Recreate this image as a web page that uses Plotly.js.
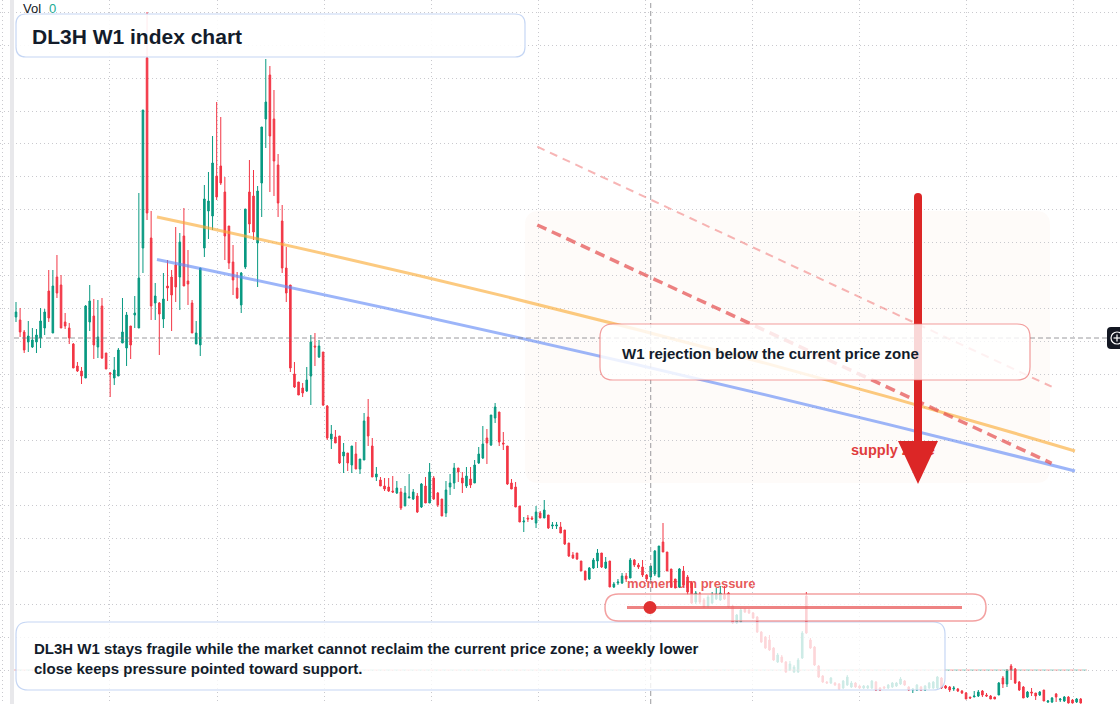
<!DOCTYPE html>
<html><head><meta charset="utf-8">
<script src="https://cdn.plot.ly/plotly-3.0.1.min.js"></script>
<style>html,body{margin:0;padding:0;background:#fff;overflow:hidden}#chart{width:1120px;height:704px}</style>
</head><body><div id="chart"></div>
<script>
// Weekly OHLC values (index points)
const open = [
38.7,38.4,37.2,36.2,35.7,36.2,36.6,37.6,41.3,37.1,
42.7,41.9,38.2,37.6,36.0,33.8,33.3,32.6,38.2,38.8,
35.7,39.8,35.1,33.1,32.6,32.8,36.1,35.6,37.8,38.9,
37.6,45.6,64.6,46.6,40.1,40.1,38.5,41.8,42.7,43.9,
42.7,46.8,42.3,40.1,36.0,35.9,45.6,49.3,48.8,52.8,
53.8,51.2,47.8,44.2,41.6,39.9,43.7,51.2,50.8,46.1,
52.1,58.5,62.9,58.5,53.9,48.3,43.6,41.9,33.0,32.2,
31.6,31.3,32.8,35.8,34.7,35.2,29.8,26.5,26.7,26.8,
24.8,25.1,23.9,25.0,23.5,24.4,28.7,25.8,22.7,22.4,
21.8,21.7,21.3,21.1,21.2,19.8,20.6,20.5,20.8,19.7,
21.8,20.1,22.6,21.1,20.5,19.1,21.7,22.1,23.6,22.6,
21.8,22.5,22.1,24.1,24.6,26.6,25.9,28.6,29.2,26.1,
25.8,22.1,21.7,19.8,18.2,18.6,18.6,18.1,19.1,18.6,
18.9,17.8,17.8,17.7,17.4,16.1,14.9,15.1,14.3,13.3,
12.5,13.6,14.3,15.1,13.6,14.3,11.7,12.1,12.1,12.8,
12.6,14.4,13.9,13.7,12.9,12.7,13.0,12.7,16.2,15.2,
13.5,12.5,11.7,13.3,12.7,12.1,10.2,11.0,10.4,9.8,
10.1,10.5,10.4,10.9,11.1,9.8,8.1,8.2,9.5,9.4,
9.1,8.7,7.2,6.7,6.4,5.6,4.2,4.7,4.2,3.4,
3.2,3.2,4.6,10.8,6.4,5.7,3.8,2.8,2.2,2.1,
2.1,2.0,1.6,1.9,1.7,2.1,1.8,1.6,1.6,1.6,
2.2,1.6,1.7,1.6,1.7,1.8,2.0,2.3,1.7,1.4,
1.4,1.7,1.4,1.6,1.6,1.6,2.6,1.8,1.7,1.5,
1.5,1.3,1.1,0.7,0.7,0.8,1.3,0.9,0.8,0.7,
0.9,2.6,2.0,3.8,3.5,2.2,1.7,0.7,1.2,1.1,
0.9,1.4,0.2,0.2,1.0,0.4,0.3,0.7,0.4,0.2,
0.5];
const high = [
40.2,39.6,37.4,38.3,37.6,37.5,39.6,39.5,43.4,43.4,
44.9,42.9,39.1,38.1,36.1,34.2,33.7,39.9,41.9,40.5,
40.4,40.6,35.1,33.2,34.7,35.6,40.6,39.2,37.8,40.8,
51.1,59.4,69.2,49.3,42.1,40.2,43.1,44.4,43.4,47.7,
47.1,49.6,45.4,40.4,38.3,43.6,51.9,53.2,56.8,60.2,
58.7,52.7,47.8,45.9,43.2,43.2,49.5,54.4,53.4,51.8,
57.7,64.5,63.8,61.4,55.0,49.9,45.7,41.9,34.2,32.2,
32.1,33.7,36.9,37.1,36.4,35.2,29.9,27.9,27.4,26.8,
26.1,25.1,25.8,26.2,24.5,29.1,30.5,26.6,23.7,22.7,
22.6,22.6,22.8,22.3,21.6,21.8,23.0,21.5,21.1,22.1,
22.7,24.1,22.8,21.2,20.5,22.3,23.0,24.1,23.6,23.2,
23.7,23.7,24.4,25.7,27.8,27.5,28.9,30.1,29.2,27.2,
25.8,22.5,22.2,19.8,18.7,18.9,18.8,19.8,19.3,20.4,
18.9,18.2,18.2,18.2,17.4,16.1,15.2,15.1,14.3,13.3,
13.7,14.6,15.5,15.1,14.7,14.3,12.2,12.5,13.1,13.1,
14.6,14.5,14.1,14.4,13.0,13.8,15.4,15.8,18.1,15.2,
13.5,12.5,13.6,13.8,12.9,12.3,11.3,11.2,10.6,10.9,
11.2,11.6,11.8,11.8,11.2,9.9,9.0,9.6,9.6,9.5,
9.2,8.8,7.3,6.8,6.9,5.7,5.1,4.9,4.3,4.3,
3.9,4.6,7.3,11.2,6.6,5.8,3.9,2.9,2.3,2.7,
2.2,2.1,2.4,2.9,2.3,2.2,1.9,1.9,1.9,2.4,
2.3,1.7,1.8,2.0,2.2,2.2,2.7,2.4,1.8,1.6,
2.0,1.8,1.9,2.2,2.3,2.8,2.7,1.9,1.8,1.8,
1.6,1.4,1.2,0.7,1.3,1.4,1.4,1.1,0.9,0.7,
2.2,2.8,3.5,4.0,3.6,2.3,1.8,1.3,1.6,1.1,
1.3,1.4,0.4,0.7,1.1,0.6,0.8,0.8,0.5,0.6,
0.6];
const low = [
38.2,36.7,35.1,35.2,35.6,35.1,35.6,36.9,38.2,37.1,
40.6,37.6,37.5,36.0,33.6,33.2,32.0,32.6,37.3,34.5,
34.6,34.5,33.5,30.7,31.9,32.8,36.1,33.8,34.5,37.6,
37.6,43.1,48.4,38.4,38.4,34.9,37.6,40.3,37.3,40.2,
39.4,41.8,39.9,37.1,36.0,34.8,44.7,46.5,47.4,50.4,
51.9,44.4,43.5,40.9,40.5,39.1,43.5,47.1,46.4,41.7,
48.7,55.6,51.2,50.8,48.7,43.1,40.2,33.2,31.6,30.9,
30.7,31.2,29.9,33.8,34.6,29.8,26.4,25.5,26.1,24.0,
23.1,23.3,23.1,23.5,23.0,24.4,25.8,22.7,22.3,21.8,
21.3,21.2,21.1,21.0,19.4,19.8,20.6,20.4,19.1,19.6,
20.1,20.1,20.4,19.7,18.8,18.7,20.9,21.5,22.2,21.1,
21.6,21.6,22.1,24.0,24.5,24.0,25.8,28.1,25.8,25.4,
21.9,21.5,19.7,18.2,17.2,18.2,18.4,17.6,18.6,18.6,
17.5,17.5,17.5,17.1,15.9,14.7,14.5,14.4,13.3,12.4,
12.4,13.5,13.6,13.6,13.5,11.7,11.6,11.9,12.0,12.2,
12.6,13.7,13.5,12.7,12.2,12.4,12.8,12.7,15.2,13.3,
11.6,11.6,11.6,11.7,10.9,10.0,10.0,10.0,9.6,9.6,
10.0,10.4,10.3,10.4,9.6,8.0,8.0,8.1,9.1,9.0,
8.5,7.1,6.1,5.5,5.3,4.3,4.1,4.1,3.1,3.3,
3.1,3.1,4.5,7.0,5.5,3.8,2.6,2.1,2.0,2.0,
1.8,1.4,1.5,1.8,1.6,1.6,1.5,1.5,1.5,1.5,
1.3,1.3,1.5,1.5,1.6,1.7,1.9,1.8,1.3,1.1,
1.3,1.3,1.3,1.5,1.5,1.5,1.5,1.5,1.2,1.3,
1.2,1.0,0.5,0.5,0.7,0.7,0.7,0.7,0.5,0.5,
0.9,1.6,1.7,2.4,2.0,1.3,0.6,0.6,0.8,0.4,
0.8,0.3,0.1,0.1,0.2,0.2,0.2,0.05,0.05,0.1,
0.05];
const close = [
39.2,37.2,35.4,36.8,36.4,36.9,38.3,39.2,38.6,41.8,
41.1,37.6,37.8,36.6,33.6,33.3,32.8,39.8,40.3,35.9,
36.7,34.6,33.5,33.0,33.4,35.4,37.2,38.9,35.9,39.1,
42.6,59.4,49.1,39.8,40.8,39.0,40.5,41.6,40.9,41.7,
46.2,41.8,42.0,37.1,37.1,43.6,50.5,50.3,54.1,50.7,
52.1,46.8,44.1,42.4,40.6,43.1,49.5,48.0,47.2,51.3,
57.7,60.2,56.8,54.3,50.1,43.6,41.1,33.6,31.7,30.9,
31.1,32.4,36.2,35.7,35.8,29.9,26.6,27.0,26.1,24.1,
25.2,24.1,25.8,23.5,24.5,28.3,26.8,22.7,23.0,21.8,
21.5,21.3,21.2,21.6,19.6,21.1,20.7,21.2,19.2,22.0,
20.1,23.2,20.5,19.9,18.8,21.4,22.1,23.6,23.2,22.1,
22.8,21.9,23.9,25.0,26.0,26.1,28.9,29.7,26.2,26.0,
22.0,21.5,19.7,18.2,18.3,18.5,18.5,19.2,18.6,19.4,
17.6,17.9,17.9,17.1,16.0,14.8,14.6,14.5,13.3,12.4,
13.6,14.4,15.1,13.7,14.2,11.7,12.0,12.2,12.8,12.5,
14.4,13.9,13.7,12.9,12.5,13.8,15.3,15.8,15.2,13.3,
11.7,11.6,13.5,11.9,11.2,10.1,11.1,10.2,9.7,10.7,
10.9,11.0,11.1,10.5,9.7,8.1,8.9,9.4,9.2,9.1,
8.6,7.2,6.2,5.6,5.4,4.4,4.9,4.2,3.2,4.0,
3.7,4.4,7.1,7.1,5.6,3.9,2.7,2.2,2.1,2.6,
1.9,1.5,2.3,2.7,2.1,1.7,1.6,1.8,1.8,2.3,
1.4,1.4,1.6,1.9,2.1,2.1,2.5,1.9,1.4,1.5,
1.9,1.4,1.8,2.1,2.2,2.7,1.6,1.6,1.4,1.6,
1.3,1.1,0.5,0.6,0.8,1.2,0.9,0.8,0.5,0.5,
2.1,2.0,3.3,3.4,2.1,1.4,0.6,1.2,1.1,0.8,
1.2,0.3,0.3,0.6,0.7,0.5,0.7,0.1,0.1,0.5,
0.1];
const week = open.map((_, i) => i);

// Reference levels / drawn trend lines (index-point units)
const crossWeek = 155, crossPrice = 36.6, lastLine = 3.4;
const titleText = 'DL3H W1 index chart';
const noteLines = ['DL3H W1 stays fragile while the market cannot reclaim the current price zone; a weekly lower',
                   'close keeps pressure pointed toward support.'];
const calloutText = 'W1 rejection below the current price zone';

// ---- layout helpers (pixel -> paper) ----
const W = 1120, H = 704;
const px = x => x / W, py = y => 1 - y / H;
function rr(x0, y0, x1, y1, r) {
  const P = (x, y) => px(x).toFixed(5) + ',' + py(y).toFixed(5);
  return 'M' + P(x0 + r, y0) + ' L' + P(x1 - r, y0) + ' Q' + P(x1, y0) + ' ' + P(x1, y0 + r) +
    ' L' + P(x1, y1 - r) + ' Q' + P(x1, y1) + ' ' + P(x1 - r, y1) +
    ' L' + P(x0 + r, y1) + ' Q' + P(x0, y1) + ' ' + P(x0, y1 - r) +
    ' L' + P(x0, y0 + r) + ' Q' + P(x0, y0) + ' ' + P(x0 + r, y0) + ' Z';
}
const paperShape = (o) => Object.assign({xref: 'paper', yref: 'paper', layer: 'above'}, o);
const FONT = 'Liberation Sans, Arial, Helvetica, sans-serif';
const INK = '#131c2b';

const shapes = [
  // faint supply zone backdrop
  paperShape({type: 'path', path: rr(525, 211, 1050, 483, 14), fillcolor: 'rgba(245,215,190,0.09)', line: {width: 0}, layer: 'below'}),
  // left strip
  paperShape({type: 'rect', x0: px(10), x1: px(14), y0: 0, y1: 1, fillcolor: '#e8e8eb', line: {width: 0}}),
  // momentum pressure label (under candles)
  paperShape({type: 'rect', x0: px(624), x1: px(760), y0: py(590), y1: py(574), fillcolor: 'rgba(0,0,0,0)', line: {width: 0}, layer: 'below',
    label: {text: '<b>momentum pressure</b>', textposition: 'middle left', padding: 0, font: {family: FONT, size: 13, color: 'rgba(226,52,52,0.82)'}}}),
  // trend curves
  {type: 'path', xref: 'x', yref: 'y', layer: 'above', path: 'M34.43,48.7 Q146.5,38.99 258.6,25.3', line: {color: 'rgba(250,170,50,0.62)', width: 3}},
  {type: 'path', xref: 'x', yref: 'y', layer: 'above', path: 'M34.43,44.45 Q146.3,34.98 258.6,23.3', line: {color: 'rgba(95,135,245,0.62)', width: 3}},
  {type: 'line', xref: 'x', yref: 'y', layer: 'above', x0: 127.3, y0: 55.73, x1: 252.9, y1: 31.73, line: {color: 'rgba(240,120,120,0.55)', width: 2, dash: '8px,6px'}},
  {type: 'line', xref: 'x', yref: 'y', layer: 'above', x0: 127.3, y0: 47.9, x1: 252.9, y1: 24.07, line: {color: 'rgba(228,80,80,0.72)', width: 3.5, dash: '10px,6px'}},
  // last price line
  {type: 'line', xref: 'paper', yref: 'y', layer: 'above', x0: px(14), x1: px(1087), y0: lastLine, y1: lastLine, line: {color: 'rgba(240,110,110,0.6)', width: 1, dash: '4px,4px'}},
  {type: 'line', xref: 'paper', yref: 'y', layer: 'above', x0: px(14), x1: px(1087), y0: lastLine, y1: lastLine, line: {color: 'rgba(60,170,150,0.55)', width: 1, dash: '0px,4px,4px,0px'}},
  // crosshair
  {type: 'line', xref: 'x', yref: 'paper', layer: 'above', x0: crossWeek, x1: crossWeek, y0: 0, y1: 1, line: {color: 'rgba(120,120,125,0.75)', width: 1, dash: '5px,3px'}},
  {type: 'line', xref: 'paper', yref: 'y', layer: 'above', x0: px(14), x1: px(1107), y0: crossPrice, y1: crossPrice, line: {color: 'rgba(120,120,125,0.75)', width: 1, dash: '5px,3px'}},
  // supply zone label (arrow drawn over it)
  paperShape({type: 'rect', x0: px(848), x1: px(945), y0: py(457), y1: py(439), fillcolor: 'rgba(0,0,0,0)', line: {width: 0},
    label: {text: '<b>supply zone</b>', textposition: 'middle left', padding: 0, font: {family: FONT, size: 14.5, color: '#e03c3c'}}}),
  // big arrow
  paperShape({type: 'line', x0: px(918), x1: px(918), y0: py(197), y1: py(446), line: {color: '#dc2626', width: 8}}),
  paperShape({type: 'circle', x0: px(914), x1: px(922), y0: py(193), y1: py(201), fillcolor: '#dc2626', line: {width: 0}}),
  paperShape({type: 'path', path: 'M' + px(898) + ',' + py(441) + ' L' + px(938) + ',' + py(441) + ' L' + px(918) + ',' + py(484) + ' Z', fillcolor: '#dc2626', line: {width: 0}}),
  // callout box
  paperShape({type: 'path', path: rr(600, 324, 1030, 380, 13), fillcolor: 'rgba(255,255,255,0.82)', line: {color: 'rgba(235,105,105,0.65)', width: 1.2}}),
  // title box
  paperShape({type: 'path', path: rr(16, 14, 525, 57, 10), fillcolor: 'rgba(255,255,255,0.9)', line: {color: 'rgba(178,200,240,0.75)', width: 1.2}}),
  // bottom note box
  paperShape({type: 'path', path: rr(16, 622, 945, 690, 12), fillcolor: 'rgba(255,255,255,0.8)', line: {color: 'rgba(178,200,240,0.75)', width: 1.2}}),
  // momentum pill
  paperShape({type: 'path', path: rr(605, 594, 986, 621, 13.5), fillcolor: 'rgba(255,255,255,0.78)', line: {color: 'rgba(236,110,110,0.65)', width: 1.5}}),
  paperShape({type: 'line', x0: px(627), x1: px(962), y0: py(607.5), y1: py(607.5), line: {color: 'rgba(232,90,90,0.75)', width: 3}}),
  paperShape({type: 'circle', x0: px(643.5), x1: px(656.5), y0: py(601), y1: py(614), fillcolor: '#e03131', line: {width: 0}}),
  // crosshair price tag at right edge
  paperShape({type: 'path', path: rr(1107, 327, 1128, 349, 4), fillcolor: '#131722', line: {width: 0}}),
  paperShape({type: 'circle', x0: px(1111), x1: px(1123), y0: py(332), y1: py(344), fillcolor: 'rgba(0,0,0,0)', line: {color: '#ffffff', width: 1.2}}),
  paperShape({type: 'line', x0: px(1113.5), x1: px(1120.5), y0: py(338), y1: py(338), line: {color: '#ffffff', width: 1.2}}),
  paperShape({type: 'line', x0: px(1117), x1: px(1117), y0: py(334.5), y1: py(341.5), line: {color: '#ffffff', width: 1.2}})
];

const ann = (x, y, text, font, extra) => Object.assign({xref: 'paper', yref: 'paper', x: px(x), y: py(y), text: text,
  showarrow: false, xanchor: 'left', yanchor: 'middle', align: 'left', font: Object.assign({family: FONT, color: INK}, font)}, extra || {});

const annotations = [
  ann(21, 8.5, 'Vol', {size: 13, color: '#131722'}),
  ann(47, 8.5, '0', {size: 13, color: '#22ab94'}),
  ann(30, 36, '<b>' + titleText + '</b>', {size: 21}),
  ann(32, 648, '<b>' + noteLines[0] + '</b>', {size: 15}),
  ann(32, 668, '<b>' + noteLines[1] + '</b>', {size: 15}),
  ann(620, 353, '<b>' + calloutText + '</b>', {size: 15})
];

const trace = {
  type: 'candlestick', x: week, open: open, high: high, low: low, close: close,
  increasing: {line: {color: '#089981', width: 1}, fillcolor: '#089981'},
  decreasing: {line: {color: '#f23645', width: 1}, fillcolor: '#f23645'},
  whiskerwidth: 0, hoverinfo: 'skip', showlegend: false
};

const xr0 = -16 / 4.095;
const layout = {
  width: W, height: H, autosize: false,
  margin: {l: 0, r: 0, t: 0, b: 0, pad: 0},
  paper_bgcolor: '#ffffff', plot_bgcolor: '#ffffff',
  font: {family: FONT},
  showlegend: false, hovermode: false, dragmode: false,
  boxgap: 0.45,
  xaxis: {range: [xr0, xr0 + W / 4.095], tickmode: 'linear', tick0: 22.95, dtick: 26.14,
    showgrid: true, gridcolor: '#c9c9ce', griddash: '1px,3px', gridwidth: 1,
    zeroline: false, showticklabels: false, ticks: '', showline: false, rangeslider: {visible: false}, fixedrange: true},
  yaxis: {range: [0, 70.4], tickmode: 'linear', tick0: 0.08, dtick: 3.29,
    showgrid: true, gridcolor: '#c9c9ce', griddash: '1px,3px', gridwidth: 1,
    zeroline: false, showticklabels: false, ticks: '', showline: false, fixedrange: true},
  shapes: shapes,
  annotations: annotations
};

Plotly.newPlot('chart', [trace], layout, {staticPlot: true, displayModeBar: false});
</script></body></html>
